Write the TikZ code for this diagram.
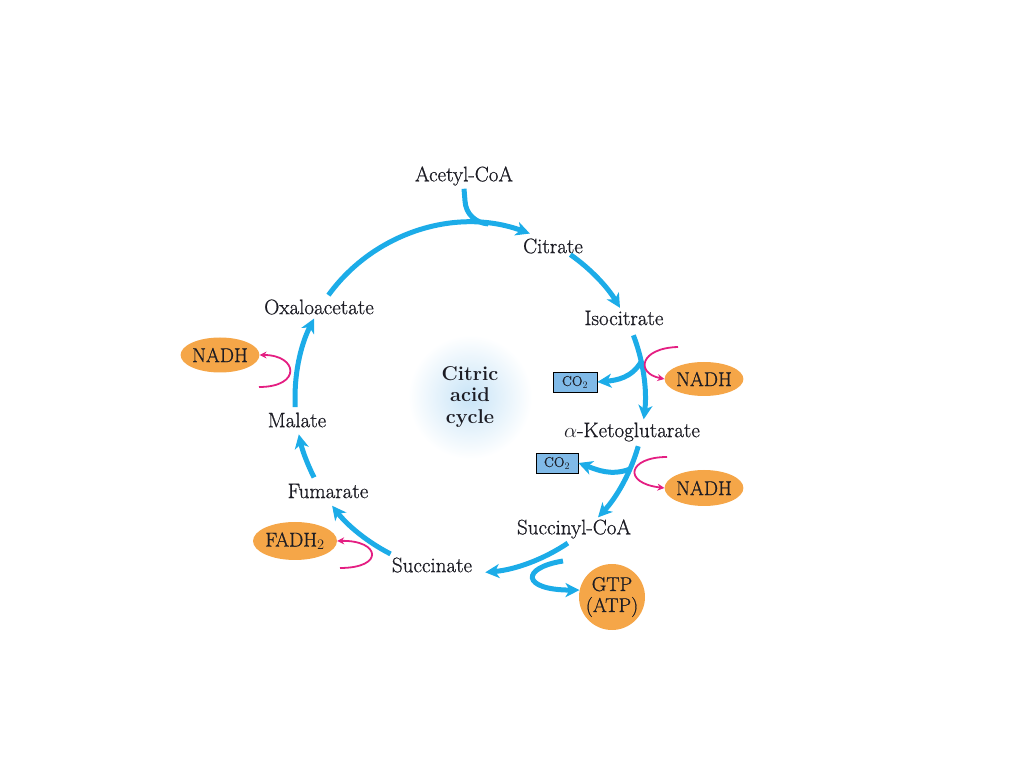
\documentclass[tikz,border=0pt]{standalone}
\usepackage{fontspec}
\setmainfont{Latin Modern Roman}
\newfontfamily\heavy{Latin Modern Roman}[FakeBold=0.8]
\usetikzlibrary{arrows.meta,calc,shapes.geometric}
\definecolor{cycb}{RGB}{28,172,232}
\definecolor{magc}{RGB}{228,30,130}
\definecolor{orgc}{RGB}{245,166,72}
\definecolor{boxb}{RGB}{128,186,232}
\definecolor{txtc}{RGB}{28,28,36}
\definecolor{glow}{RGB}{200,228,247}
\begin{document}
\begin{tikzpicture}[x=1pt,y=1pt,
  lbl/.style={font=\heavy\fontsize{21}{24}\selectfont, text=txtc, inner sep=1pt},
  flow/.style={draw=cycb, line width=5pt, -{Stealth[length=14pt,width=14pt,inset=4pt]}},
  plain/.style={draw=cycb, line width=5pt},
  side/.style={draw=magc, line width=1.8pt, -{Stealth[length=7pt,width=7pt]}},
  prod/.style={ellipse, fill=orgc, minimum width=74pt, minimum height=35pt, inner sep=0pt,
    font=\heavy\fontsize{20}{22}\selectfont, text=txtc},
  co2box/.style={draw=black, fill=boxb, line width=0.8pt, minimum width=44pt, minimum height=20pt,
    inner sep=0pt, font=\heavy\fontsize{14}{14}\selectfont, text=txtc}]
\useasboundingbox (0,0) rectangle (1024,768);
\coordinate (C) at (470,370);
\def\R{175}
% glow
\shade[inner color=glow, outer color=white] (470,371) circle (62);
\node[font=\bfseries\fontsize{20}{21.5}\selectfont, text=txtc, align=center] (cac) at (470,371) {Citric\\acid\\cycle};
% labels
\node[lbl] (acetyl) at (464,592) {Acetyl-CoA};
\node[lbl] (citrate) at (553,522) {Citrate};
\node[lbl] (isocitrate) at (624,450) {Isocitrate};
\node[lbl] (akg) at (632,336) {$\alpha$-Ketoglutarate};
\node[lbl] (succoa) at (574,239) {Succinyl-CoA};
\node[lbl] (succinate) at (432,203) {Succinate};
\node[lbl] (fumarate) at (328,277) {Fumarate};
\node[lbl] (malate) at (297,348) {Malate};
\node[lbl] (oxalo) at (319,461) {Oxaloacetate};
% products
\node[prod, minimum width=72pt] (nadhL) at (220,413) {NADH};
\node[prod, minimum width=76pt, minimum height=34pt] (nadhA) at (704,389) {NADH};
\node[prod, minimum width=74pt, minimum height=36pt] (nadhB) at (704,280) {NADH};
\node[prod, minimum width=76pt, minimum height=38pt] (fadh) at (295,227) {FADH$_2$};
\node[circle, fill=orgc, minimum size=66pt, inner sep=0pt, align=center,
  font=\heavy\fontsize{20}{21}\selectfont, text=txtc] (gtp) at (612,171) {GTP\\(ATP)};
\node[co2box] (co2a) at (575,386) {CO$_2$};
\node[co2box, minimum width=42pt] (co2b) at (557,305) {CO$_2$};
% cycle arcs
\draw[flow] ($(C)+(144:\R)$) arc[start angle=144, end angle=70, radius=\R];
\draw[flow] ($(C)+(55:\R)$) arc[start angle=55, end angle=31, radius=\R];
\draw[flow] ($(C)+(21:\R)$) arc[start angle=21, end angle=-7, radius=\R];
\draw[flow] ($(C)+(-16:\R)$) arc[start angle=-16, end angle=-43, radius=\R];
\draw[flow] ($(C)+(-56:\R)$) arc[start angle=-56, end angle=-85, radius=\R];
\draw[flow] ($(C)+(-117:\R)$) arc[start angle=-117, end angle=-142, radius=\R];
\draw[flow] ($(C)+(-153:\R)$) arc[start angle=-153, end angle=-168, radius=\R];
\draw[flow] ($(C)+(183:\R)$) arc[start angle=183, end angle=153, radius=\R];
% acetyl-CoA join
\coordinate (j1) at ($(C)+(84:\R)$);
\draw[plain] (acetyl.south) ++(0,-2) -- ++(1,-12) to[out=-88,in=176] (j1);
% CO2 branches
\coordinate (b1) at ($(C)+(12:\R)$);
\draw[flow] (b1) to[out=-120,in=5] (co2a.east);
\coordinate (b2) at ($(C)+(-24:\R)$);
\draw[flow] (b2) to[out=200,in=-20] (co2b.east);
% GTP branch
\coordinate (g0) at (563,207);
\draw[flow] (g0) .. controls (520,200) and (522,178) .. (gtp.168);
% magenta side arrows
\coordinate (m1) at (678,421);
\draw[side] (m1) .. controls (640,420) and (635,395) .. (nadhA.west);
\coordinate (m2) at (667,311);
\draw[side] (m2) .. controls (628,311) and (622,285) .. (nadhB.west);
\coordinate (m3) at (340,200);
\draw[side] (m3) .. controls (385,200) and (380,228) .. (fadh.east);
\coordinate (m4) at (259,381);
\draw[side] (m4) .. controls (302,381) and (298,413) .. (nadhL.east);
\end{tikzpicture}
\end{document}
